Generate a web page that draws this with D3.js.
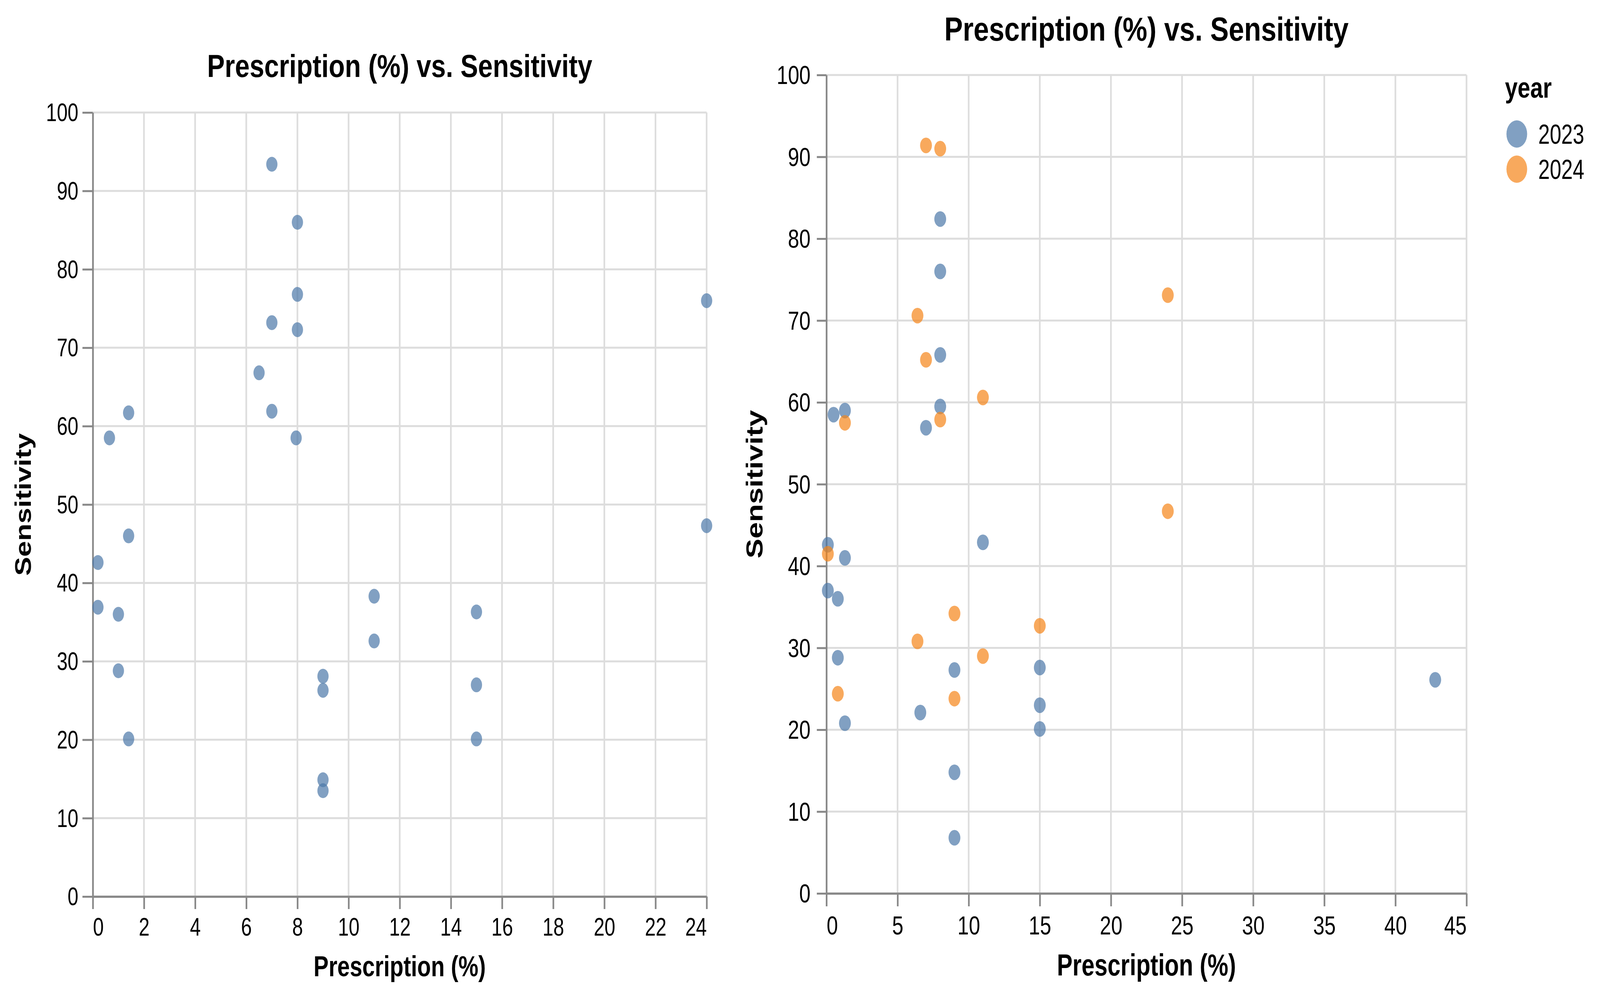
<!DOCTYPE html>
<html>
<head>
<meta charset="utf-8">
<script src="https://cdn.jsdelivr.net/npm/d3@7"></script>
<style>
  html, body { margin: 0; padding: 0; background: #fff; width: 100%; height: 100%; overflow: hidden; }
  #chart { width: 100vw; height: 100vh; }
  svg { display: block; }
  text { font-family: "Liberation Sans", Arial, Helvetica, sans-serif; fill: #000; }
</style>
</head>
<body>
<div id="chart"></div>
<script>
// ---- data ----
// left panel: Prescription (%) vs Sensitivity (single series)
var leftPrescription = [7, 8, 8, 7, 8, 24, 6.5, 7, 7.95, 1.4, 0.65, 1.4, 0.2, 24, 0.2, 1.0, 11, 11, 15, 1.0, 9, 9, 15, 1.4, 15, 9, 9];
var leftSensitivity  = [93.4, 86.0, 76.8, 73.2, 72.3, 76.0, 66.8, 61.9, 58.5, 61.7, 58.5, 46.0, 42.6, 47.3, 36.9, 36.0, 38.3, 32.6, 36.3, 28.8, 28.1, 26.3, 27.0, 20.1, 20.1, 14.9, 13.5];

// right panel, year 2023
var rx2023 = [8, 8, 8, 8, 7, 0.5, 1.3, 0.1, 1.3, 11, 0.1, 0.8, 0.8, 9, 15, 6.6, 15, 1.3, 15, 9, 9, 42.8];
var ry2023 = [82.4, 76.0, 65.8, 59.5, 56.9, 58.5, 59.0, 42.6, 41.0, 42.9, 37.0, 36.0, 28.8, 27.3, 27.6, 22.1, 23.0, 20.8, 20.1, 14.8, 6.8, 26.1];
// right panel, year 2024
var rx2024 = [7, 8, 6.4, 7, 11, 8, 1.3, 24, 24, 0.1, 9, 15, 6.4, 11, 0.8, 9];
var ry2024 = [91.4, 91.0, 70.6, 65.2, 60.6, 57.9, 57.5, 73.1, 46.7, 41.5, 34.2, 32.7, 30.8, 29.0, 24.4, 23.8];

var years = ["2023", "2024"];
var leftXTicks = [0, 2, 4, 6, 8, 10, 12, 14, 16, 18, 20, 22, 24];
var rightXTicks = [0, 5, 10, 15, 20, 25, 30, 35, 40, 45];
var yTicks = [0, 10, 20, 30, 40, 50, 60, 70, 80, 90, 100];

var titleText = "Prescription (%) vs. Sensitivity";
var xTitle = "Prescription (%)";
var yTitle = "Sensitivity";

var W = 4327, H = 2547;
var color = d3.scaleOrdinal().domain(years).range(["#4c78a8", "#f58518"]);

// drawn in a fixed 4327x2547 frame that is fitted to the window
var svg = d3.select("#chart").append("svg")
  .attr("width", "100%")
  .attr("height", "100%")
  .attr("viewBox", "0 0 " + W + " " + H)
  .attr("preserveAspectRatio", "none");

// the original picture is squeezed horizontally, so text and dots are too
function squishText(sel, x, y, sq, rotate) {
  sel.attr("transform", "translate(" + x + "," + y + ") scale(" + sq + ",1)" + (rotate ? " rotate(-90)" : ""));
}

function drawPanel(p) {
  var x = d3.scaleLinear().domain([0, p.xMax]).range([p.left, p.right]);
  var y = d3.scaleLinear().domain([0, 100]).range([p.bottom, p.top]);
  var g = svg.append("g");

  // grid
  g.append("g").selectAll("line")
    .data(p.xTicks)
    .enter().append("line")
    .attr("x1", function (d) { return x(d); })
    .attr("x2", function (d) { return x(d); })
    .attr("y1", p.top).attr("y2", p.bottom)
    .attr("stroke", "#ddd").attr("stroke-width", 4.5);
  g.append("g").selectAll("line")
    .data(yTicks)
    .enter().append("line")
    .attr("y1", function (d) { return y(d); })
    .attr("y2", function (d) { return y(d); })
    .attr("x1", p.left).attr("x2", p.right)
    .attr("stroke", "#ddd").attr("stroke-width", 5);

  // x axis
  var xa = g.append("g")
    .attr("transform", "translate(0," + p.bottom + ")")
    .call(d3.axisBottom(x).tickValues(p.xTicks).tickSize(p.xTickLen).tickSizeOuter(0).tickFormat(d3.format("d")));
  xa.select(".domain").attr("stroke", "#888").attr("stroke-width", 5.5);
  xa.selectAll(".tick line").attr("stroke", "#888").attr("stroke-width", 4.5);
  xa.selectAll(".tick text")
    .attr("y", p.xLabelOff)
    .attr("dy", "0.71em")
    .style("font-size", p.tickFont + "px")
    .attr("transform", "scale(" + p.sq + ",1)")
    .attr("text-anchor", function (d, i) {
      if (i === 0) return "start";
      if (i === p.xTicks.length - 1) return "end";
      return "middle";
    });

  // y axis
  var ya = g.append("g")
    .attr("transform", "translate(" + p.left + ",0)")
    .call(d3.axisLeft(y).tickValues(yTicks).tickSize(p.yTickLen).tickSizeOuter(0));
  ya.select(".domain").attr("stroke", "#888").attr("stroke-width", 4.5);
  ya.selectAll(".tick line").attr("stroke", "#888").attr("stroke-width", 5);
  ya.selectAll(".tick text")
    .attr("x", -p.yLabelOff / p.sq)
    .attr("dy", "0.34em")
    .style("font-size", p.tickFont + "px")
    .attr("transform", "scale(" + p.sq + ",1)");

  // points
  g.append("g").selectAll("ellipse")
    .data(p.points)
    .enter().append("ellipse")
    .attr("cx", function (d) { return x(d.x); })
    .attr("cy", function (d) { return y(d.y); })
    .attr("rx", p.dotR * 0.8)
    .attr("ry", p.dotR)
    .attr("fill", function (d) { return color(d.year); })
    .attr("fill-opacity", 0.7);

  // titles
  g.append("text")
    .attr("text-anchor", "middle")
    .style("font-size", p.titleFont + "px")
    .style("font-weight", "bold")
    .call(squishText, (p.left + p.right) / 2, p.titleY, p.titleSq)
    .text(titleText);

  g.append("text")
    .attr("text-anchor", "middle")
    .style("font-size", p.axisTitleFont + "px")
    .style("font-weight", "bold")
    .call(squishText, (p.left + p.right) / 2, p.xTitleY, 0.81)
    .text(xTitle);

  g.append("text")
    .attr("text-anchor", "middle")
    .style("font-size", p.yTitleFont + "px")
    .style("font-weight", "bold")
    .call(squishText, p.yTitleX, (p.top + p.bottom) / 2, 0.83, true)
    .text(yTitle);
}

var leftPoints = leftPrescription.map(function (v, i) {
  return { x: v, y: leftSensitivity[i], year: "2023" };
});
var rightPoints = rx2023.map(function (v, i) {
  return { x: v, y: ry2023[i], year: "2023" };
}).concat(rx2024.map(function (v, i) {
  return { x: v, y: ry2024[i], year: "2024" };
}));

drawPanel({
  points: leftPoints, xMax: 24, xTicks: leftXTicks,
  left: 251, right: 1911, top: 288, bottom: 2295,
  xTickLen: 32, yTickLen: 28, xLabelOff: 55, yLabelOff: 39,
  tickFont: 64, sq: 0.82, dotR: 19,
  titleFont: 81, titleSq: 0.88, titleY: 197,
  axisTitleFont: 75, xTitleY: 2499,
  yTitleFont: 73, yTitleX: 83
});

drawPanel({
  points: rightPoints, xMax: 45, xTicks: rightXTicks,
  left: 2235, right: 3966, top: 192, bottom: 2287,
  xTickLen: 33, yTickLen: 26, xLabelOff: 57, yLabelOff: 43,
  tickFont: 67, sq: 0.82, dotR: 20,
  titleFont: 86, titleSq: 0.87, titleY: 104,
  axisTitleFont: 78, xTitleY: 2497,
  yTitleFont: 76, yTitleX: 2062
});

// legend for the right panel
var legend = svg.append("g");
legend.append("text")
  .style("font-size", "75px")
  .style("font-weight", "bold")
  .call(squishText, 4070, 250, 0.82)
  .text("year");

var item = legend.selectAll("g.item")
  .data(years)
  .enter().append("g")
  .attr("class", "item")
  .attr("transform", function (d, i) { return "translate(4102," + (343 + i * 90) + ")"; });

item.append("ellipse")
  .attr("rx", 28).attr("ry", 35)
  .attr("fill", function (d) { return color(d); })
  .attr("fill-opacity", 0.7);

item.append("text")
  .style("font-size", "70px")
  .attr("dy", "0.35em")
  .call(squishText, 58, 0, 0.8)
  .text(function (d) { return d; });
</script>
</body>
</html>
